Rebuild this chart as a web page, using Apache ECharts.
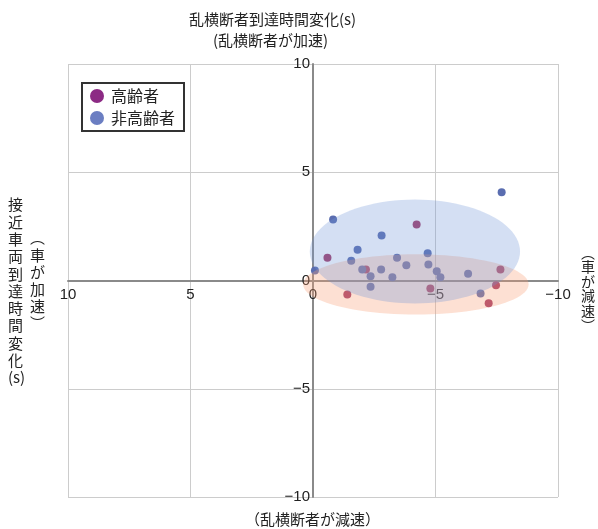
<!DOCTYPE html>
<html>
<head>
<meta charset="utf-8">
<script src="https://cdn.jsdelivr.net/npm/echarts@6/dist/echarts.min.js"></script>
<style>
  html, body { margin: 0; padding: 0; background: #fff; }
  #chart { width: 598px; height: 529px; }
</style>
</head>
<body>
<div id="chart"></div>
<script>
// Change in arrival time (s): x = pedestrian, y = approaching vehicle
const elderlyX = [-4.23, -0.59, -2.16, -1.40, -4.79, -7.65, -7.47, -7.17];
const elderlyY = [2.59, 1.05, 0.51, -0.65, -0.37, 0.51, -0.22, -1.05];

const nonElderlyX = [-7.70, -0.82, -2.80, -1.82, -4.68, -0.08, -1.56, -3.43, -3.81, -4.71,
                     -2.01, -2.78, -2.35, -3.24, -5.05, -5.20, -6.33, -2.35, -6.84];
const nonElderlyY = [4.08, 2.82, 2.08, 1.42, 1.26, 0.46, 0.91, 1.05, 0.71, 0.74,
                     0.51, 0.51, 0.20, 0.15, 0.43, 0.15, 0.31, -0.29, -0.60];

// Spread ellipses: [centre x, centre y, radius x, radius y] in data units
const elderlyEllipse = [-4.2, -0.18, 4.6, 1.39];
const nonElderlyEllipse = [-4.16, 1.34, 4.29, 2.4];

const axisTicks = [-10, -5, 0, 5, 10];
const seriesNames = ['高齢者', '非高齢者'];

const CJK = '"Noto Sans CJK JP", "Noto Sans", sans-serif';
const NUM = '"Liberation Sans", Arial, sans-serif';

const toPairs = (xs, ys) => xs.map((x, i) => [x, ys[i]]);
const fmtTick = v => String(v).replace('-', '\u2212');

function ellipseRenderer(fill) {
  return function (params, api) {
    const c = api.coord([api.value(0), api.value(1)]);
    const e = api.coord([api.value(0) + api.value(2), api.value(1) + api.value(3)]);
    const rx = Math.abs(e[0] - c[0]);
    const ry = Math.abs(e[1] - c[1]);
    const pts = [];
    const n = 96;
    for (let i = 0; i < n; i++) {
      const a = (i / n) * Math.PI * 2;
      pts.push([c[0] + rx * Math.cos(a), c[1] + ry * Math.sin(a)]);
    }
    return { type: 'polygon', shape: { points: pts }, style: { fill: fill } };
  };
}

const GRID = { left: 68, right: 40, top: 64, bottom: 32 };
const W = 598, H = 529;
const plotW = W - GRID.left - GRID.right;
const plotH = H - GRID.top - GRID.bottom;

const chart = echarts.init(document.getElementById('chart'), null, { renderer: 'canvas' });

const axisCommon = {
  type: 'value',
  min: axisTicks[0],
  max: axisTicks[axisTicks.length - 1],
  interval: 5,
  axisLine: { onZero: false, lineStyle: { color: '#8a8a8a', width: 2 } },
  axisTick: { show: false },
  splitLine: { show: true, lineStyle: { color: '#cccccc', width: 1 } },
  axisLabel: { color: '#222', fontSize: 15, fontFamily: NUM, formatter: fmtTick }
};

chart.setOption({
  animation: false,
  backgroundColor: '#ffffff',
  grid: Object.assign({ containLabel: false }, GRID),
  // both axes cross through the centre of the plot
  xAxis: Object.assign({}, axisCommon, {
    inverse: true,
    position: 'bottom',
    offset: -plotH / 2,
    axisLabel: Object.assign({}, axisCommon.axisLabel, { margin: 7 })
  }),
  yAxis: Object.assign({}, axisCommon, {
    position: 'left',
    offset: -plotW / 2,
    axisLabel: Object.assign({}, axisCommon.axisLabel, { margin: 3 })
  }),
  legend: {
    orient: 'vertical',
    left: 82,
    top: 83,
    backgroundColor: '#fff',
    borderColor: '#333',
    borderWidth: 2,
    borderRadius: 0,
    padding: [5, 9, 5, 8],
    itemGap: 6,
    itemWidth: 14,
    itemHeight: 14,
    icon: 'circle',
    textStyle: { fontSize: 16, color: '#222', fontFamily: CJK, padding: [0, 0, 0, 2] },
    data: [
      { name: seriesNames[0], itemStyle: { color: '#8c2a84', opacity: 1 } },
      { name: seriesNames[1], itemStyle: { color: '#6b7ec2', opacity: 1 } }
    ]
  },
  graphic: [
    { type: 'text', left: 189, top: 12, z: 10,
      style: { text: '乱横断者到達時間変化(s)', font: '15px ' + CJK, fill: '#222' } },
    { type: 'text', left: 213, top: 33, z: 10,
      style: { text: '(乱横断者が加速)', font: '15px ' + CJK, fill: '#222' } },
    { type: 'text', left: 245, top: 512, z: 10,
      style: { text: '（乱横断者が減速）', font: '15px ' + CJK, fill: '#222' } },
    { type: 'text', left: 8, top: 196, z: 10,
      style: { text: '接\n近\n車\n両\n到\n達\n時\n間\n変\n化\n(s)', font: '15px ' + CJK,
               lineHeight: 17.3, align: 'center', fill: '#222' } },
    { type: 'text', left: 30, top: 229, z: 10,
      style: { text: '︵\n車\nが\n加\n速\n︶', font: '15px ' + CJK,
               lineHeight: 17.2, align: 'center', fill: '#222' } },
    { type: 'text', left: 581, top: 245, z: 10,
      style: { text: '︵\n車\nが\n減\n速\n︶', font: '14px ' + CJK,
               lineHeight: 14.6, align: 'center', fill: '#222' } }
  ],
  series: [
    {
      name: seriesNames[0],
      type: 'scatter',
      z: 2,
      symbol: 'circle',
      symbolSize: 8,
      itemStyle: { color: '#a23a66', opacity: 1 },
      data: toPairs(elderlyX, elderlyY)
    },
    {
      name: seriesNames[1],
      type: 'scatter',
      z: 2,
      symbol: 'circle',
      symbolSize: 8,
      itemStyle: { color: '#5a6db0', opacity: 1 },
      data: toPairs(nonElderlyX, nonElderlyY)
    },
    {
      type: 'custom',
      z: 3,
      silent: true,
      encode: { x: 0, y: 1 },
      renderItem: ellipseRenderer('rgba(248,158,118,0.32)'),
      data: [elderlyEllipse]
    },
    {
      type: 'custom',
      z: 4,
      silent: true,
      encode: { x: 0, y: 1 },
      renderItem: ellipseRenderer('rgba(112,150,215,0.30)'),
      data: [nonElderlyEllipse]
    }
  ]
});
</script>
</body>
</html>
